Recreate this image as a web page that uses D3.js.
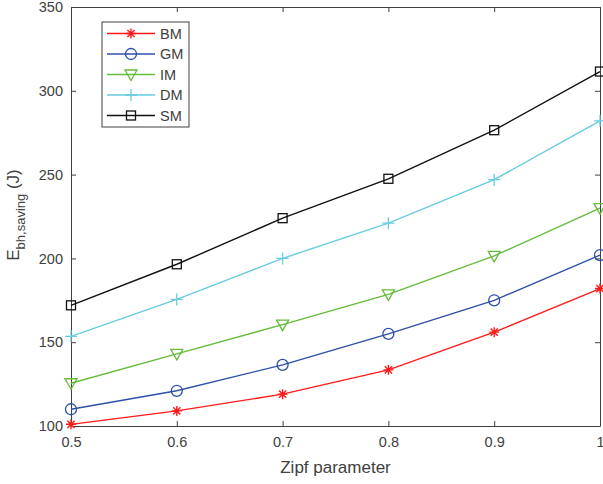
<!DOCTYPE html>
<html>
<head>
<meta charset="utf-8">
<script src="https://cdn.jsdelivr.net/npm/d3@7"></script>
<style>
  body { margin: 0; background: #fff; }
  text { font-family: "Liberation Sans", Arial, sans-serif; fill: #404040; }
</style>
</head>
<body>
<div id="chart"></div>
<script>
// data
const zipf = [0.5, 0.6, 0.7, 0.8, 0.9, 1.0];
const BM = [101, 109, 119, 133.5, 156, 182];
const GM = [110, 121, 136.5, 155, 175, 202];
const IM = [125.5, 143, 160.5, 178.5, 201.5, 230];
const DM = [153.5, 175.5, 200, 221, 247, 282];
const SM = [172, 196.5, 224, 247.5, 276.5, 311.5];
const xTicks = [0.5, 0.6, 0.7, 0.8, 0.9, 1];
const yTicks = [100, 150, 200, 250, 300, 350];

const series = [
  { name: "BM", values: BM, color: "#ff1a1a", marker: "star" },
  { name: "GM", values: GM, color: "#2f4fa8", marker: "circle" },
  { name: "IM", values: IM, color: "#66bb3a", marker: "triangle" },
  { name: "DM", values: DM, color: "#66cce0", marker: "plus" },
  { name: "SM", values: SM, color: "#111111", marker: "square" }
];

var margin = { top: 7, right: 3, bottom: 58, left: 71 },
  width = 603 - margin.left - margin.right,
  height = 484 - margin.top - margin.bottom;

var svg = d3.select("#chart").append("svg")
  .attr("width", 603).attr("height", 484)
  .append("g")
  .attr("transform", "translate(" + margin.left + "," + margin.top + ")");

var x = d3.scaleLinear().domain([0.5, 1]).range([0, width]);
var y = d3.scaleLinear().domain([100, 350]).range([height, 0]);

// axes with inward ticks (box on)
function styleAxis(g) {
  g.select(".domain").attr("stroke", "#404040");
  g.selectAll(".tick line").attr("stroke", "#404040");
  g.selectAll(".tick text").style("font-size", "14.5px").attr("fill", "#404040");
}
svg.append("g").attr("transform", "translate(0," + height + ")")
  .call(d3.axisBottom(x).tickValues(xTicks).tickSizeInner(-5).tickSizeOuter(0).tickPadding(11)
    .tickFormat(d => d === 1 ? "1" : d3.format(".1f")(d)))
  .call(styleAxis);
svg.append("g")
  .call(d3.axisLeft(y).tickValues(yTicks).tickSizeInner(-5).tickSizeOuter(0).tickPadding(8))
  .call(styleAxis);
svg.append("g")
  .call(d3.axisTop(x).tickValues(xTicks).tickSizeInner(-5).tickSizeOuter(0).tickFormat(""))
  .call(styleAxis);
svg.append("g").attr("transform", "translate(" + width + ",0)")
  .call(d3.axisRight(y).tickValues(yTicks).tickSizeInner(-5).tickSizeOuter(0).tickFormat(""))
  .call(styleAxis);

function drawMarker(g, type, color) {
  if (type === "circle") {
    g.append("circle").attr("r", 5.5).attr("fill", "none").attr("stroke", color).attr("stroke-width", 1.3);
  } else if (type === "square") {
    g.append("rect").attr("x", -4.5).attr("y", -4.5).attr("width", 9).attr("height", 9)
      .attr("fill", "none").attr("stroke", color).attr("stroke-width", 1.3);
  } else if (type === "triangle") {
    g.append("path").attr("d", "M-6,-4.5L6,-4.5L0,6Z")
      .attr("fill", "none").attr("stroke", color).attr("stroke-width", 1.3);
  } else if (type === "plus") {
    g.append("path").attr("d", "M-6,0L6,0M0,-6L0,6")
      .attr("fill", "none").attr("stroke", color).attr("stroke-width", 1.3);
  } else if (type === "star") {
    g.append("path").attr("d", "M-5,0L5,0M0,-5L0,5M-3.6,-3.6L3.6,3.6M-3.6,3.6L3.6,-3.6")
      .attr("fill", "none").attr("stroke", color).attr("stroke-width", 1.4);
  }
}

var line = d3.line().x((d, i) => x(zipf[i])).y(d => y(d));

series.forEach(function (s) {
  svg.append("path").datum(s.values)
    .attr("d", line)
    .attr("fill", "none")
    .attr("stroke", s.color)
    .attr("stroke-width", 1.4);
  s.values.forEach(function (v, i) {
    var g = svg.append("g").attr("transform", "translate(" + x(zipf[i]) + "," + y(v) + ")");
    drawMarker(g, s.marker, s.color);
  });
});

// legend
var legend = svg.append("g").attr("transform", "translate(" + (102 - margin.left) + "," + (22 - margin.top) + ")");
legend.append("rect").attr("width", 87).attr("height", 105)
  .attr("fill", "#fff").attr("stroke", "#404040").attr("stroke-width", 1);
series.forEach(function (s, i) {
  var row = legend.append("g").attr("transform", "translate(0," + (11.5 + i * 20.5) + ")");
  row.append("line").attr("x1", 5).attr("x2", 53).attr("stroke", s.color).attr("stroke-width", 1.4);
  drawMarker(row.append("g").attr("transform", "translate(29,0)"), s.marker, s.color);
  row.append("text").attr("x", 58).attr("dy", "0.35em").style("font-size", "14.5px").text(s.name);
});

// axis labels
svg.append("text")
  .attr("x", width / 2).attr("y", height + 47)
  .attr("text-anchor", "middle").style("font-size", "17px")
  .text("Zipf parameter");

var yl = svg.append("text")
  .attr("transform", "translate(-52," + 208 + ") rotate(-90)")
  .attr("text-anchor", "middle").style("font-size", "17px");
yl.append("tspan").text("E");
yl.append("tspan").attr("dy", 6).style("font-size", "13px").text("bh,saving");
yl.append("tspan").attr("dy", -6).text(" (J)");
</script>
</body>
</html>
